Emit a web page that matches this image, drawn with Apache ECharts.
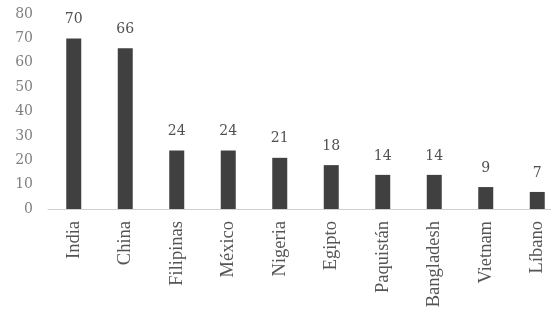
<!DOCTYPE html>
<html><head><meta charset="utf-8">
<script src="https://cdn.jsdelivr.net/npm/echarts@6/dist/echarts.min.js"></script>
<style>html,body{margin:0;padding:0;background:#fff}#c{width:551px;height:312px}</style>
</head><body><div id="c"></div>
<script>
const categories = ['India','China','Filipinas','México','Nigeria','Egipto','Paquistán','Bangladesh','Vietnam','Líbano'];
const values = [70,66,24,24,21,18,14,14,9,7];
const yTicks = {min:0, max:80, interval:10};

const chart = echarts.init(document.getElementById('c'));
chart.setOption({
  animation:false,
  grid:{left:48, width:515, top:14, bottom:103, containLabel:false, outerBoundsMode:'none'},
  xAxis:{
    type:'category', data:categories,
    axisLine:{lineStyle:{color:'#d0d0d0', width:1}},
    axisTick:{show:false},
    axisLabel:{rotate:90, margin:12, color:'#555555', fontFamily:'Liberation Serif', fontSize:18.5, interval:0}
  },
  yAxis:{
    type:'value', min:yTicks.min, max:yTicks.max, interval:yTicks.interval,
    axisLine:{show:false}, axisTick:{show:false}, splitLine:{show:false},
    axisLabel:{margin:15, color:'#808080', fontFamily:'DejaVu Serif', fontSize:14}
  },
  series:[{
    type:'bar', data:values, barWidth:15,
    itemStyle:{color:'#404040'},
    label:{show:true, position:'top', distance:12, color:'#505050', fontFamily:'DejaVu Serif', fontSize:14}
  }]
});
</script></body></html>
